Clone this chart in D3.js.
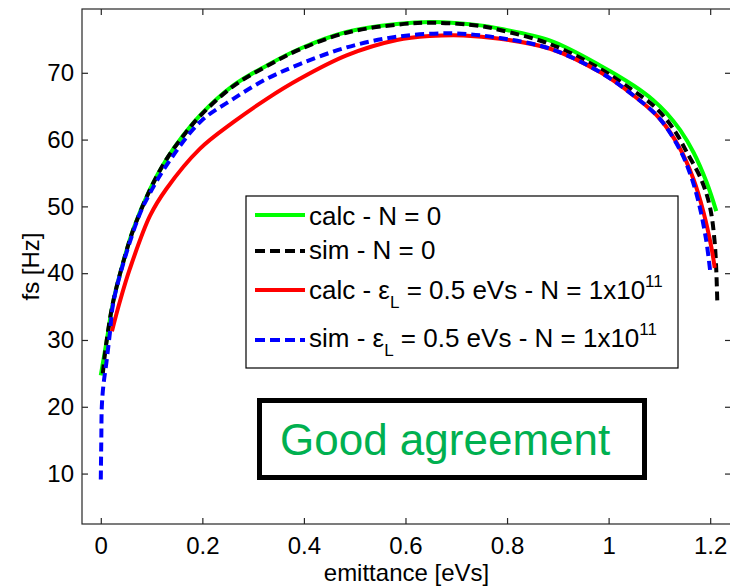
<!DOCTYPE html>
<html>
<head>
<meta charset="utf-8">
<script src="https://cdn.jsdelivr.net/npm/d3@7"></script>
<style>
  body { margin: 0; background: #fff; }
  text { font-family: "Liberation Sans", Arial, sans-serif; fill: #000; }
</style>
</head>
<body>
<div id="chart"></div>
<script>
// values: [emittance eVs, fs Hz]
const calcN0 = [[0.000,24.7],[0.011,29.6],[0.024,35.6],[0.044,41.6],[0.064,46.6],[0.097,52.6],[0.129,57.0],[0.162,60.6],[0.195,63.6],[0.261,68.1],[0.327,71.1],[0.392,73.6],[0.484,76.1],[0.583,77.3],[0.654,77.6],[0.747,77.1],[0.786,76.6],[0.885,74.8],[0.983,71.1],[1.049,68.1],[1.088,65.9],[1.115,63.9],[1.141,61.4],[1.167,58.1],[1.193,53.6],[1.212,49.3]];
const simN0 = [[0.004,25.0],[0.011,29.6],[0.024,35.6],[0.044,41.6],[0.064,46.5],[0.097,52.5],[0.129,57.0],[0.162,60.5],[0.195,63.5],[0.261,68.0],[0.327,71.0],[0.392,73.5],[0.484,76.0],[0.583,77.2],[0.654,77.5],[0.747,77.0],[0.786,76.4],[0.885,74.3],[0.983,70.6],[1.049,67.3],[1.088,65.1],[1.115,62.9],[1.136,60.6],[1.154,58.1],[1.182,54.1],[1.199,50.1],[1.209,44.5],[1.214,35.8]];
const calcN1e11 = [[0.022,31.3],[0.037,35.6],[0.057,40.6],[0.097,48.6],[0.129,52.6],[0.195,58.6],[0.261,62.6],[0.327,66.1],[0.392,69.1],[0.484,72.6],[0.583,74.9],[0.648,75.5],[0.714,75.6],[0.786,75.1],[0.885,73.6],[0.983,70.1],[1.049,66.6],[1.101,63.1],[1.141,58.6],[1.167,54.1],[1.187,49.1],[1.202,44.0],[1.209,40.8]];
const simN1e11 = [[0.000,9.1],[0.001,15.0],[0.002,20.0],[0.005,23.1],[0.011,26.6],[0.018,31.1],[0.024,35.3],[0.044,41.4],[0.077,48.9],[0.097,52.0],[0.129,56.1],[0.195,62.6],[0.261,66.1],[0.327,69.1],[0.392,71.3],[0.484,73.8],[0.583,75.4],[0.694,75.9],[0.786,75.2],[0.885,73.6],[0.983,70.1],[1.049,66.6],[1.101,63.1],[1.141,58.4],[1.160,55.0],[1.176,51.0],[1.192,45.0],[1.200,40.3]];

const xTicks = [0, 0.2, 0.4, 0.6, 0.8, 1, 1.2];
const yTicks = [10, 20, 30, 40, 50, 60, 70];
const xDomain = [-0.037, 1.241];
const yDomain = [2.45, 79.55];

const width = 730, height = 586;
const margin = { top: 9, right: -1, bottom: 62, left: 82 };

const svg = d3.select("#chart").append("svg")
    .attr("width", width)
    .attr("height", height);

const x = d3.scaleLinear().domain(xDomain).range([margin.left, width - margin.right]);
const y = d3.scaleLinear().domain(yDomain).range([height - margin.bottom, margin.top]);

// axis box, MATLAB style with inward ticks
const axStroke = "#262626";
svg.append("rect")
    .attr("x", x.range()[0]).attr("y", y.range()[1])
    .attr("width", x.range()[1] - x.range()[0])
    .attr("height", y.range()[0] - y.range()[1])
    .attr("fill", "none").attr("stroke", axStroke).attr("stroke-width", 1.2);

const xb = svg.append("g").attr("transform", `translate(0,${y.range()[0]})`)
    .call(d3.axisBottom(x).tickValues(xTicks).tickSize(-6).tickPadding(13).tickFormat(d3.format("")));
const xt = svg.append("g").attr("transform", `translate(0,${y.range()[1]})`)
    .call(d3.axisTop(x).tickValues(xTicks).tickSize(-6).tickFormat(""));
const yl = svg.append("g").attr("transform", `translate(${x.range()[0]},0)`)
    .call(d3.axisLeft(y).tickValues(yTicks).tickSize(-6).tickPadding(8));
const yr = svg.append("g").attr("transform", `translate(${x.range()[1]},0)`)
    .call(d3.axisRight(y).tickValues(yTicks).tickSize(-6).tickFormat(""));

[xb, xt, yl, yr].forEach(g => {
  g.select(".domain").remove();
  g.selectAll(".tick line").attr("stroke", axStroke).attr("stroke-width", 1.2);
  g.selectAll("text").attr("font-family", "Liberation Sans, Arial, sans-serif")
    .attr("font-size", 24).attr("fill", "#000");
});
xb.selectAll("text").attr("dy", "0.71em");

svg.append("text")
    .attr("x", (x.range()[0] + x.range()[1]) / 2).attr("y", 581)
    .attr("text-anchor", "middle").attr("font-size", 24)
    .text("emittance [eVs]");

svg.append("text")
    .attr("transform", `translate(39,${(y.range()[0] + y.range()[1]) / 2}) rotate(-90)`)
    .attr("text-anchor", "middle").attr("font-size", 24)
    .text("fs [Hz]");

// curves
const series = [
  { data: calcN0, color: "#00ff00", dash: null },
  { data: simN0, color: "#000000", dash: "9,5" },
  { data: calcN1e11, color: "#ff0000", dash: null },
  { data: simN1e11, color: "#0000ff", dash: "9,5" }
];

const line = d3.line()
    .x(d => x(d[0])).y(d => y(d[1]))
    .curve(d3.curveCatmullRom.alpha(0.5));

svg.append("g").selectAll("path")
  .data(series)
  .join("path")
    .attr("d", d => line(d.data))
    .attr("fill", "none")
    .attr("stroke", d => d.color)
    .attr("stroke-width", 4)
    .attr("stroke-dasharray", d => d.dash);

// legend
const legend = svg.append("g");
legend.append("rect")
    .attr("x", 246).attr("y", 196).attr("width", 432).attr("height", 172)
    .attr("fill", "#fff").attr("stroke", "#000").attr("stroke-width", 1.2);

const legendRows = [
  { s: series[0], ly: 215, ty: 225, parts: [["calc - N = 0"]] },
  { s: series[1], ly: 251, ty: 259, parts: [["sim - N = 0"]] },
  { s: series[2], ly: 290, ty: 299, parts: [["calc - ε"], ["L", "sub"], [" = 0.5 eVs - N = 1x10", "back"], ["11", "sup"]] },
  { s: series[3], ly: 340, ty: 347, parts: [["sim - ε"], ["L", "sub"], [" = 0.5 eVs - N = 1x10", "back"], ["11", "sup"]] }
];

legendRows.forEach(r => {
  legend.append("line")
      .attr("x1", 255).attr("x2", 305).attr("y1", r.ly).attr("y2", r.ly)
      .attr("stroke", r.s.color).attr("stroke-width", 4)
      .attr("stroke-dasharray", r.s.dash ? "10,5" : null);
  const t = legend.append("text").attr("x", 309).attr("y", r.ty).attr("font-size", 26);
  r.parts.forEach(p => {
    const ts = t.append("tspan").text(p[0]);
    if (p[1] === "sub") ts.attr("font-size", 17).attr("dy", 9);
    else if (p[1] === "sup") ts.attr("font-size", 17).attr("dy", -12);
    else if (p[1] === "back") ts.attr("dy", -9);
  });
});

// annotation box
svg.append("rect")
    .attr("x", 259.5).attr("y", 400.5).attr("width", 385).attr("height", 77)
    .attr("fill", "#fff").attr("stroke", "#000").attr("stroke-width", 5);
svg.append("text")
    .attr("x", 280).attr("y", 455)
    .attr("font-family", "Open Sans, Noto Sans, sans-serif")
    .attr("font-size", 44)
    .style("fill", "#00b050")
    .text("Good agreement");
</script>
</body>
</html>
